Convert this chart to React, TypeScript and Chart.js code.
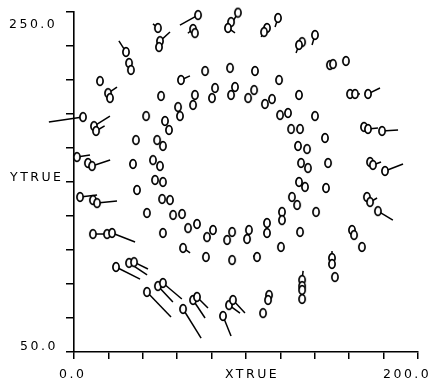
import { useEffect, useRef } from 'react';
import { Chart, registerables } from 'chart.js';

Chart.register(...registerables);

// Target positions (true coordinates) of the calibration grid
const XTRUE = [
  // outer ring
  72.1, 69.2, 70.3, 95.3, 91.3, 89.5, 118.6, 112.2, 110.5, 140.1, 132.6, 130.8, 158.1, 148.8, 150.6,
  48.8, 50.0, 49.4, 30.2, 32.0, 33.1, 15.1, 19.8, 20.9, 5.2, 11.6, 12.8, 1.7, 8.1, 10.5,
  3.5, 11.0, 13.4, 11.0, 19.2, 22.1, 24.4, 32.0, 34.9, 42.4, 48.8, 51.7, 63.4, 69.2, 71.5,
  86.6, 90.1, 92.4, 109.9, 113.4, 112.8, 132.6, 132.6, 132.6, 132.6, 150.0, 150.0, 151.7,
  161.6, 162.8, 167.4, 170.3, 172.1, 176.7, 172.1, 173.8, 180.8, 168.6, 170.9, 179.1, 160.5, 163.4, 170.9,
  // middle ring
  62.2, 76.2, 90.7, 105.2, 119.2, 130.8, 140.1, 145.9, 147.7, 146.5, 140.7, 131.4,
  120.3, 106.4, 91.9, 76.7, 63.4, 51.7, 42.4, 36.6, 34.3, 36.0, 41.9, 50.6,
  // inner ring (pairs)
  70.3, 69.2, 82.0, 80.2, 93.6, 91.3, 104.7, 101.2, 115.1, 111.0, 119.8, 124.4,
  126.2, 131.4, 130.2, 135.5, 132.0, 136.0, 130.8, 134.3, 126.7, 129.7, 120.9, 120.9,
  112.2, 112.2, 101.7, 100.6, 91.9, 89.0, 80.8, 77.3, 66.3, 71.5, 57.6, 62.8,
  51.2, 55.8, 47.1, 51.7, 45.9, 50.0, 48.3, 51.7, 52.9, 55.2, 60.5, 61.6,
];

const YTRUE = [
  248.2, 240.0, 237.6, 249.6, 244.1, 240.6, 246.5, 240.6, 238.2, 236.5, 232.3, 230.6, 221.2, 218.8, 219.4,
  240.6, 232.9, 229.4, 226.5, 220.0, 215.9, 209.4, 202.3, 199.4, 188.2, 182.9, 180.0, 164.7, 161.2, 159.4,
  141.2, 139.4, 137.6, 119.4, 119.4, 120.0, 100.0, 102.4, 102.9, 85.3, 88.8, 90.6, 75.3, 80.6, 82.4,
  71.2, 77.6, 80.6, 72.9, 83.5, 80.6, 92.4, 88.8, 86.5, 81.2, 105.3, 101.8, 94.1,
  121.8, 118.8, 111.8, 141.2, 138.2, 132.9, 161.8, 160.0, 156.5, 182.4, 181.2, 180.0, 201.8, 201.8, 201.8,
  210.0, 215.3, 217.1, 215.3, 210.0, 201.2, 188.8, 175.9, 161.2, 146.5, 132.4, 120.6,
  111.8, 105.9, 104.1, 105.9, 111.2, 120.0, 131.8, 145.3, 160.6, 174.7, 188.8, 200.6,
  201.2, 195.3, 205.3, 199.4, 205.9, 201.2, 204.1, 199.4, 198.8, 195.9, 189.4, 190.6,
  181.2, 181.2, 171.2, 169.4, 161.2, 158.2, 150.0, 147.1, 141.2, 136.5, 132.4, 127.6,
  125.9, 120.0, 121.8, 116.5, 120.6, 115.9, 121.8, 117.6, 122.9, 125.3, 130.6, 131.2,
  140.0, 139.4, 151.2, 150.0, 162.9, 159.4, 174.7, 171.2, 185.9, 180.6, 194.1, 188.8,
];

// Displacement of each target (measured minus true); 0 where no vector is drawn
const DX = [
  -10.5, -3.0, 0, -2.9, 0, 4.1, -1.7, 0, -1.7, -1.7, 0, -1.7, 1.0, 0, 0,
  -2.9, 5.8, 0, -4.1, 0.6, 0, 0, 5.2, 0, -19.8, 9.3, 5.0, 7.6, 0, 10.5,
  9.9, 0, 11.6, 8.1, 0, 13.4, 14.0, 10.5, 8.1, 14.0, 8.7, 11.0, 10.5, 7.0, 6.4,
  4.7, 6.4, 7.0, 0, 0, 0, 0.6, 0, 0, 0, 0, 0, 0,
  0, 0, 0, 0, 4.1, 8.7, 0, 4.7, 10.5, 0, 5.8, 9.3, 0, 2.9, 7.0,
  5.2, 0, 0, 0, 0, 0, 0, 1.5, 0, 0, 0, 0,
  0, -2.3, 0, 0, 4.1, 0, 0, 0, -2.0, 0, 0, 0,
  0, 0, 0, 0, 0, 0, 0, 0, 0, 0, 0, 0,
  0, 0, 0, 0, 0, 0, 0, 0, 0, 0, 0, 0,
  0, 0, 0, 0, 0, 0, 0, 0, 0, 0, 0, 0,
  0, 0, 0, 0, 0, 0, 0, 0, 0, 0, 0, 0,
];

const DY = [
  -5.9, -2.5, 0, -5.3, 0, -2.9, -5.3, 0, -2.9, -5.9, 0, -4.7, -2.0, 0, 0,
  2.4, 5.3, 0, 6.5, 2.5, 0, 0, 3.5, 0, -2.9, 5.9, 3.0, 1.2, 0, 3.5,
  1.2, 0, 1.2, 0, 0, -5.3, -7.1, -7.1, -4.1, -14.7, -9.4, -9.4, -17.1, -10.6, -6.5,
  -11.8, -4.7, -7.6, 0, 0, 0, 5.3, 0, 0, 0, 4.1, 0, 0,
  0, 0, 0, 0, 2.4, -5.3, 0, 1.8, 4.1, 0, 0.6, 0.6, 0, 0, 3.5,
  2.4, 0, 0, 0, 0, 0, 0, -1.0, 0, 0, 0, 0,
  0, 0.6, 0, 0, -2.9, 0, 0, 0, 0, 0, 0, 0,
  0, 0, 0, 0, 0, 0, 0, 0, 0, 0, 0, 0,
  0, 0, 0, 0, 0, 0, 0, 0, 0, 0, 0, 0,
  0, 0, 0, 0, 0, 0, 0, 0, 0, 0, 0, 0,
  0, 0, 0, 0, 0, 0, 0, 0, 0, 0, 0, 0,
];

// Axis ranges and labels
const X_MIN = 0;
const X_MAX = 200;
const X_STEP = 20;
const Y_MIN = 50;
const Y_MAX = 250;
const Y_STEP = 20;
const Y_MID = 150;
const X_MID = 100;
const Y_LABELS = ['250.0', 'YTRUE', '50.0'];
const X_LABELS = ['0.0', 'XTRUE', '200.0'];

const INK = '#000';

// Small open ellipse used as the target marker
function makeMarker(): HTMLCanvasElement {
  const c = document.createElement('canvas');
  c.width = 10;
  c.height = 12;
  const g = c.getContext('2d')!;
  g.beginPath();
  g.ellipse(5, 6, 3.1, 4.3, 0, 0, Math.PI * 2);
  g.fillStyle = '#fff';
  g.fill();
  g.lineWidth = 1.7;
  g.strokeStyle = INK;
  g.stroke();
  return c;
}

// Plotter-style annotations along the two axes
const axisText = {
  id: 'axisText',
  afterDraw(chart: any) {
    const { ctx, chartArea: a, scales } = chart;
    const xs = scales.x;
    const ys = scales.y;
    ctx.save();
    ctx.fillStyle = INK;
    ctx.font = '12.5px "DejaVu Sans", sans-serif';
    ctx.letterSpacing = '2.5px';
    ctx.textBaseline = 'middle';
    ctx.textAlign = 'left';
    ctx.fillText(Y_LABELS[0], a.left - 65, ys.getPixelForValue(Y_MAX) + 13);
    ctx.fillText(Y_LABELS[1], a.left - 64, ys.getPixelForValue(Y_MID) - 4);
    ctx.fillText(Y_LABELS[2], a.left - 54, ys.getPixelForValue(Y_MIN) - 5);
    const yb = a.bottom + 23;
    ctx.fillText(X_LABELS[0], xs.getPixelForValue(X_MIN) - 15, yb);
    ctx.fillText(X_LABELS[1], xs.getPixelForValue(X_MID) - 21, yb);
    ctx.fillText(X_LABELS[2], xs.getPixelForValue(X_MAX) - 35, yb);
    ctx.restore();
  },
};

export default function App() {
  const ref = useRef<HTMLCanvasElement | null>(null);

  useEffect(() => {
    if (!ref.current) return;
    const marker = makeMarker();

    const targets = XTRUE.map((x, i) => ({ x, y: YTRUE[i] }));

    const vectors = XTRUE.map((x, i) => ({ x, y: YTRUE[i], u: DX[i], v: DY[i] }))
      .filter((p) => p.u !== 0 || p.v !== 0)
      .map((p) => ({
        data: [
          { x: p.x, y: p.y },
          { x: p.x + p.u, y: p.y + p.v },
        ],
        showLine: true,
        borderColor: INK,
        borderWidth: 1.5,
        pointRadius: 0,
        pointHoverRadius: 0,
        clip: false as any,
      }));

    const axis = (tickLength: number) => ({
      type: 'linear' as const,
      grid: {
        drawOnChartArea: false,
        drawTicks: true,
        tickLength,
        color: INK,
        lineWidth: 1.5,
      },
      border: { display: true, color: INK, width: 1.6 },
      ticks: { display: false },
    });

    const chart = new Chart(ref.current, {
      type: 'scatter',
      data: {
        datasets: [
          {
            data: targets,
            pointStyle: marker as any,
            pointRadius: 4,
            pointHoverRadius: 4,
            showLine: false,
            clip: false as any,
          },
          ...vectors,
        ],
      },
      options: {
        responsive: false,
        animation: false,
        events: [],
        layout: { padding: { left: 66, right: 16, top: 12, bottom: 32 } },
        plugins: { legend: { display: false }, tooltip: { enabled: false } },
        scales: {
          x: {
            ...axis(7),
            position: 'bottom',
            min: X_MIN,
            max: X_MAX,
            ticks: { display: false, stepSize: X_STEP },
          },
          y: {
            ...axis(8),
            position: 'left',
            min: Y_MIN,
            max: Y_MAX,
            ticks: { display: false, stepSize: Y_STEP },
          },
        },
      },
      plugins: [axisText],
    });

    return () => chart.destroy();
  }, []);

  return (
    <canvas
      ref={ref}
      width={434}
      height={391}
      style={{ display: 'block', position: 'absolute', left: 0, top: 0, background: '#fff' }}
    />
  );
}
